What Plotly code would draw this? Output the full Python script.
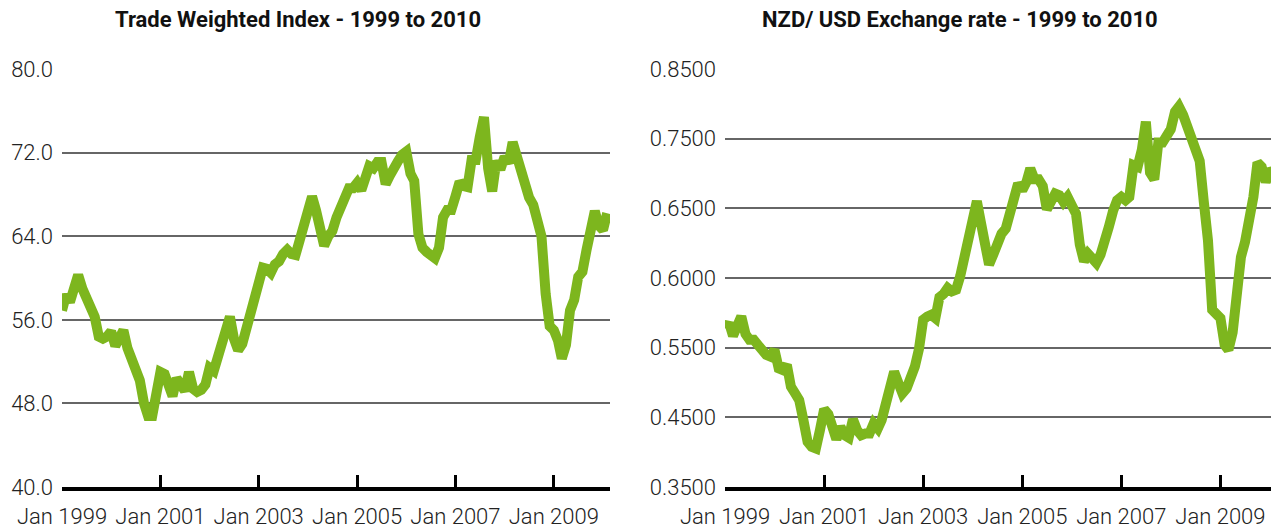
import plotly.graph_objects as go
import pandas as pd

months = pd.date_range("1999-01-01", periods=134, freq="MS")

twi = [56.9, 58.4, 57.7, 58.8, 60.3, 59.0, 57.9, 57.3, 56.3, 54.4,
       54.2, 54.4, 54.9, 53.5, 54.1, 55.0, 53.3, 52.2, 51.4, 50.2,
       48.0, 46.8, 46.8, 48.9, 51.0, 50.8, 49.4, 48.7, 50.4, 49.8,
       49.2, 51.0, 49.4, 49.1, 49.3, 49.8, 51.4, 51.1, 52.3, 53.3,
       54.5, 56.3, 54.2, 53.1, 53.7, 55.2, 56.8, 57.7, 60.0, 61.0,
       60.9, 60.5, 61.3, 61.6, 62.3, 62.7, 62.3, 62.2, 63.6, 65.0,
       66.4, 67.8, 66.5, 64.4, 63.1, 64.0, 64.5, 65.8, 66.7, 67.2,
       68.6, 68.6, 69.1, 68.4, 69.4, 70.7, 70.5, 71.1, 71.1, 69.0,
       69.8, 70.3, 71.2, 71.8, 72.1, 70.0, 69.3, 64.2, 62.9, 62.5,
       62.1, 61.9, 62.9, 65.8, 66.5, 66.5, 67.8, 69.2, 68.8, 68.7,
       71.3, 71.3, 73.5, 75.4, 70.5, 68.3, 71.2, 70.4, 71.6, 71.0,
       73.0, 71.6, 70.2, 68.8, 67.7, 67.0, 65.6, 64.0, 58.5, 55.4,
       55.0, 54.0, 52.3, 53.6, 56.9, 57.9, 60.1, 60.6, 62.7, 64.5,
       66.4, 65.0, 64.6, 66.2]

nzdusd = [0.540, 0.546, 0.531, 0.542, 0.554, 0.533, 0.526, 0.526, 0.519, 0.512,
          0.508, 0.506, 0.514, 0.492, 0.490, 0.496, 0.470, 0.462, 0.454, 0.430,
          0.404, 0.398, 0.396, 0.418, 0.443, 0.437, 0.420, 0.407, 0.422, 0.412,
          0.409, 0.431, 0.418, 0.412, 0.414, 0.414, 0.426, 0.420, 0.430, 0.447,
          0.468, 0.488, 0.475, 0.462, 0.468, 0.480, 0.494, 0.515, 0.550, 0.554,
          0.556, 0.552, 0.577, 0.581, 0.588, 0.584, 0.586, 0.602, 0.628, 0.645,
          0.675, 0.692, 0.667, 0.640, 0.616, 0.628, 0.643, 0.653, 0.659, 0.677,
          0.697, 0.713, 0.705, 0.715, 0.731, 0.718, 0.718, 0.710, 0.682, 0.692,
          0.701, 0.699, 0.691, 0.697, 0.686, 0.677, 0.640, 0.620, 0.629, 0.622,
          0.618, 0.628, 0.652, 0.661, 0.680, 0.693, 0.697, 0.693, 0.697, 0.735,
          0.733, 0.753, 0.787, 0.726, 0.718, 0.762, 0.762, 0.770, 0.778, 0.799,
          0.805, 0.795, 0.780, 0.763, 0.757, 0.740, 0.690, 0.645, 0.562, 0.556,
          0.552, 0.520, 0.514, 0.535, 0.596, 0.625, 0.643, 0.668, 0.697, 0.738,
          0.733, 0.715, 0.727, 0.728]

twi_ticks = [40, 48, 56, 64, 72, 80]
nzd_tickvals = [0.35 + i * (0.5 / 6) for i in range(7)]
nzd_ticktext = ["0.3500", "0.4500", "0.5500", "0.6000", "0.6500", "0.7500", "0.8500"]

titles = ["Trade Weighted Index - 1999 to 2010", "NZD/ USD Exchange rate - 1999 to 2010"]

GREEN = "#7db61e"
TICKFONT = dict(family="Roboto", size=22, color="#222", weight=300)

# The page body has an 8px margin, so the figure is sized to the remaining area.
W, H = 1271, 521

fig = go.Figure()
fig.add_trace(go.Scatter(x=months, y=twi, mode="lines", xaxis="x", yaxis="y",
                         line=dict(color=GREEN, width=10), hoverinfo="x+y"))
fig.add_trace(go.Scatter(x=months, y=nzdusd, mode="lines", xaxis="x2", yaxis="y2",
                         line=dict(color=GREEN, width=10), hoverinfo="x+y"))

xcommon = dict(type="date", range=["1999-01-01", "2010-02-22"],
               tick0="1999-01-01", dtick="M24", tickformat="%b %Y",
               ticks="inside", ticklen=12, tickwidth=2.5, tickcolor="#000",
               showline=True, linewidth=4, linecolor="#000", showgrid=False,
               zeroline=False, tickfont=TICKFONT, ticklabelstandoff=7,
               automargin=False)
ydom = [1 - 479 / H, 1 - 61 / H]
ycommon = dict(showline=False, showgrid=True, gridcolor="#666", gridwidth=1.5,
               zeroline=False, ticks="", tickfont=TICKFONT, ticklabelstandoff=8,
               automargin=False)

fig.update_layout(
    width=W, height=H,
    margin=dict(l=0, r=0, t=0, b=0, autoexpand=False),
    paper_bgcolor="white", plot_bgcolor="white",
    showlegend=False,
    xaxis=dict(domain=[54 / W, 602 / W], anchor="y", **xcommon),
    xaxis2=dict(domain=[717 / W, 1269 / W], anchor="y2", **xcommon),
    yaxis=dict(domain=ydom, anchor="x", range=[40, 80], tickvals=twi_ticks,
               tickformat=".1f", **ycommon),
    yaxis2=dict(domain=ydom, anchor="x2", range=[0.35, 0.85], tickvals=nzd_tickvals,
                ticktext=nzd_ticktext, **ycommon),
    annotations=[
        dict(text="<b>%s</b>" % titles[0], x=290 / W, y=1 - 12 / H,
             xref="paper", yref="paper", showarrow=False, xanchor="center", yanchor="middle",
             font=dict(family="Roboto", size=22, color="#111")),
        dict(text="<b>%s</b>" % titles[1], x=952 / W, y=1 - 12 / H,
             xref="paper", yref="paper", showarrow=False, xanchor="center", yanchor="middle",
             font=dict(family="Roboto", size=22, color="#111")),
    ],
)

fig.write_html("out.html")
